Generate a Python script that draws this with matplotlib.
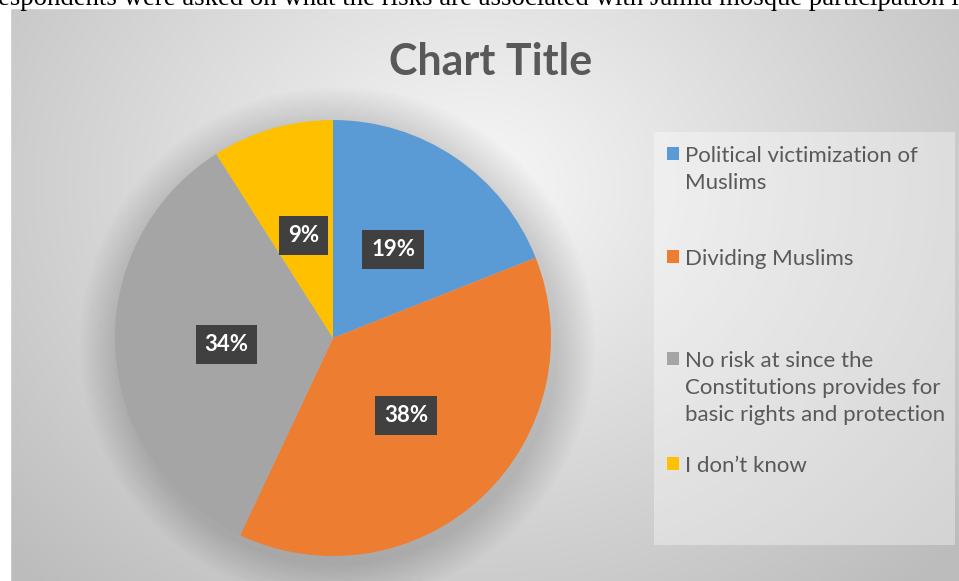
import matplotlib
matplotlib.use('Agg')
import matplotlib.pyplot as plt
import numpy as np
from matplotlib.patches import Rectangle, Circle

W, H = 959, 581

categories = [
    "Political victimization of\nMuslims",
    "Dividing Muslims",
    "No risk at since the\nConstitutions provides for\nbasic rights and protection",
    "I don\u2019t know",
]
shares = [19, 38, 34, 9]
colors = ['#5b9bd5', '#ed7d31', '#a5a5a5', '#ffc000']
legend_y = [155, 258, 360, 465]

plt.rcParams['font.family'] = ['Lato', 'DejaVu Sans']

fig = plt.figure(figsize=(W / 100, H / 100), dpi=100)

# background in pixel coordinates
bg = fig.add_axes([0, 0, 1, 1])
bg.set_xlim(0, W)
bg.set_ylim(H, 0)
bg.axis('off')

yy, xx = np.mgrid[0:H, 0:W]
d = np.sqrt(((xx - 470) / 620.0) ** 2 + ((yy - 180) / 520.0) ** 2)
shade = np.clip(0.97 - 0.22 * d, 0.74, 0.97)
img = np.dstack([shade, shade, shade])
bg.imshow(img, extent=(10, W, H, 8), aspect='auto', zorder=0)
bg.add_patch(Rectangle((0, 0), 10, H, color='white', zorder=1))
bg.add_patch(Rectangle((0, 0), W, 8, color='white', zorder=1))

# clipped caption line above the chart
bg.text(-2, 5, "espondents were asked on what the risks are associated with Jamia mosque participation i",
        family='Liberation Serif', fontsize=19.3, color='black', va='baseline', ha='left', zorder=2)

bg.text(491, 75, "Chart Title", fontsize=31, fontweight='bold', color='#595959',
        ha='center', va='baseline', zorder=2)

# legend box
bg.add_patch(Rectangle((654, 132), 301, 413, facecolor='white', alpha=0.35,
                       edgecolor='none', zorder=2))
for label, c, y in zip(categories, colors, legend_y):
    bg.add_patch(Rectangle((667, y - 8), 12, 13, facecolor=c, edgecolor='none', zorder=3))
    bg.text(685, y - 9, label, fontsize=16, color='#595959', ha='left', va='top',
            linespacing=1.45, zorder=3)

# pie
cx, cy, r = 333, 338, 218
ax = fig.add_axes([(cx - r) / W, (H - cy - r) / H, 2 * r / W, 2 * r / H])
ax.set_facecolor('none')
for k in range(12):
    ax.add_patch(Circle((0.02, -0.03), 1.0 + 0.015 * (12 - k), color='black',
                        alpha=0.012, lw=0, clip_on=False, zorder=0))

wedges, texts, autotexts = ax.pie(
    shares, colors=colors, startangle=90, counterclock=False,
    autopct='%1.0f%%', pctdistance=0.49, radius=1.0,
    wedgeprops=dict(linewidth=0),
)
for t in autotexts:
    t.set_color('white')
    t.set_fontsize(16)
    t.set_fontweight('bold')
    t.set_bbox(dict(boxstyle='square,pad=0.4', facecolor='#404040', edgecolor='none'))
ax.set_xlim(-1, 1)
ax.set_ylim(-1, 1)
ax.set_aspect('equal')

fig.savefig('out.png', dpi=100)
